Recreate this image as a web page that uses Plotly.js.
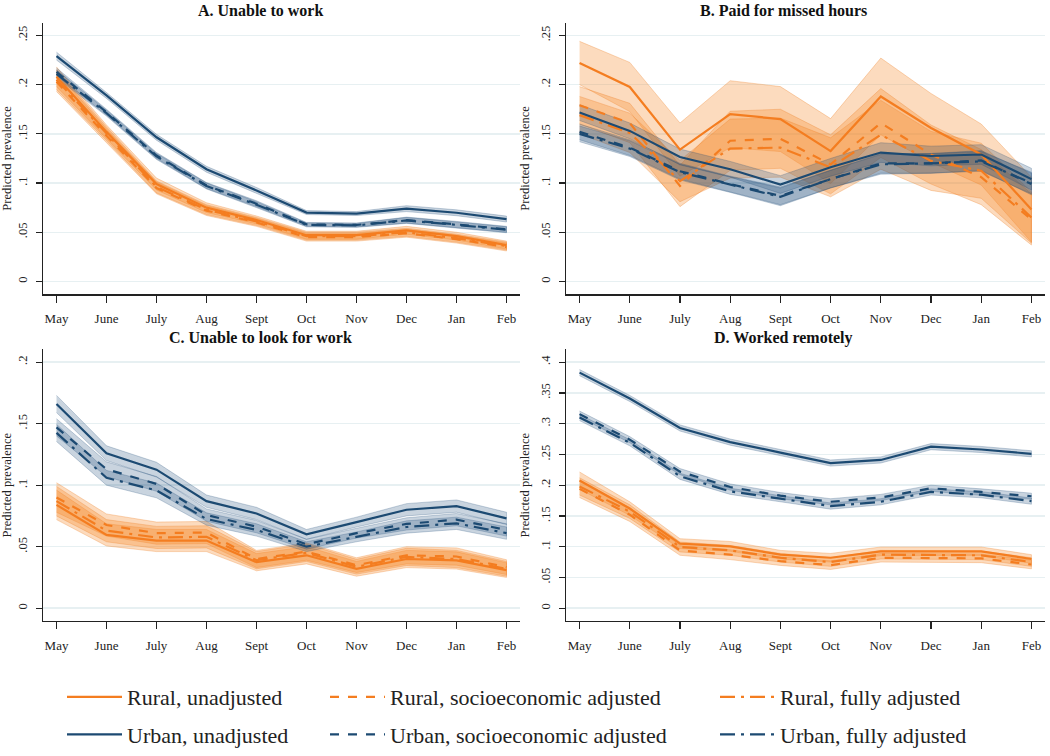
<!DOCTYPE html>
<html>
<head>
<meta charset="utf-8">
<script src="https://cdn.plot.ly/plotly-3.0.1.min.js"></script>
<style>html,body{margin:0;padding:0;background:#fff}#chart{width:1050px;height:756px}</style>
</head>
<body>
<div id="chart"></div>
<script>
// ---------- data ----------
const months = ['May','June','July','Aug','Sept','Oct','Nov','Dec','Jan','Feb'];

// A. Unable to work
const a_rural_unadj    = [0.208, 0.152, 0.099, 0.075, 0.0625, 0.047, 0.047, 0.052, 0.046, 0.037];
const a_rural_socio    = [0.203, 0.148, 0.095, 0.072, 0.060, 0.045, 0.045, 0.049, 0.043, 0.035];
const a_rural_full     = [0.205, 0.150, 0.096, 0.073, 0.061, 0.046, 0.046, 0.050, 0.044, 0.036];
const a_urban_unadj    = [0.229, 0.189, 0.1465, 0.114, 0.0925, 0.070, 0.069, 0.074, 0.0698, 0.0634];
const a_urban_socio    = [0.213, 0.172, 0.128, 0.0975, 0.079, 0.058, 0.0574, 0.0624, 0.058, 0.053];
const a_urban_full     = [0.211, 0.171, 0.127, 0.097, 0.078, 0.0575, 0.057, 0.062, 0.0575, 0.0525];
const a_rural_ci       = [0.010, 0.007, 0.006, 0.005, 0.004, 0.004, 0.004, 0.004, 0.004, 0.004];
const a_urban_ci       = [0.004, 0.003, 0.003, 0.003, 0.003, 0.002, 0.002, 0.003, 0.003, 0.003];

// B. Paid for missed hours
const b_rural_unadj    = [0.222, 0.1976, 0.134, 0.170, 0.165, 0.1325, 0.188, 0.156, 0.129, 0.073];
const b_rural_socio    = [0.179, 0.161, 0.097, 0.143, 0.145, 0.119, 0.161, 0.129, 0.106, 0.063];
const b_rural_full     = [0.169, 0.151, 0.102, 0.135, 0.136, 0.116, 0.149, 0.1225, 0.1125, 0.065];
const b_urban_unadj    = [0.1716, 0.153, 0.1265, 0.114, 0.0985, 0.116, 0.131, 0.1275, 0.129, 0.104];
const b_urban_socio    = [0.152, 0.136, 0.112, 0.099, 0.087, 0.104, 0.120, 0.120, 0.123, 0.099];
const b_urban_full     = [0.150, 0.135, 0.111, 0.0985, 0.086, 0.104, 0.119, 0.120, 0.122, 0.100];
const b_rural_unadj_ci = [0.022, 0.025, 0.027, 0.034, 0.033, 0.033, 0.039, 0.035, 0.031, 0.033];
const b_rural_adj_ci   = [0.019, 0.020, 0.021, 0.030, 0.030, 0.030, 0.035, 0.030, 0.028, 0.026];
const b_urban_ci       = [0.008, 0.008, 0.008, 0.008, 0.009, 0.009, 0.010, 0.010, 0.010, 0.011];

// C. Unable to look for work
const c_rural_unadj    = [0.084, 0.0596, 0.055, 0.055, 0.0374, 0.043, 0.032, 0.040, 0.0388, 0.031];
const c_rural_socio    = [0.090, 0.0676, 0.061, 0.0615, 0.040, 0.046, 0.035, 0.043, 0.042, 0.0334];
const c_rural_full     = [0.087, 0.063, 0.0575, 0.058, 0.039, 0.045, 0.0337, 0.0417, 0.040, 0.032];
const c_urban_unadj    = [0.166, 0.126, 0.1126, 0.087, 0.077, 0.060, 0.070, 0.080, 0.083, 0.073];
const c_urban_socio    = [0.147, 0.113, 0.101, 0.0757, 0.0663, 0.052, 0.061, 0.0685, 0.072, 0.0636];
const c_urban_full     = [0.1425, 0.106, 0.0957, 0.0725, 0.0636, 0.050, 0.058, 0.066, 0.069, 0.061];
const c_rural_ci       = [0.012, 0.009, 0.009, 0.009, 0.007, 0.007, 0.006, 0.007, 0.007, 0.006];
const c_urban_ci       = [0.007, 0.006, 0.006, 0.005, 0.005, 0.004, 0.004, 0.005, 0.005, 0.005];

// D. Worked remotely
const d_rural_unadj    = [0.2075, 0.162, 0.105, 0.1005, 0.087, 0.082, 0.0925, 0.0925, 0.0925, 0.080];
const d_rural_socio    = [0.194, 0.152, 0.094, 0.087, 0.0765, 0.070, 0.082, 0.082, 0.081, 0.071];
const d_rural_full     = [0.198, 0.157, 0.0995, 0.094, 0.082, 0.075, 0.087, 0.087, 0.086, 0.075];
const d_urban_unadj    = [0.383, 0.341, 0.293, 0.270, 0.253, 0.236, 0.241, 0.2626, 0.258, 0.251];
const d_urban_socio    = [0.3155, 0.274, 0.222, 0.197, 0.183, 0.173, 0.180, 0.195, 0.189, 0.182];
const d_urban_full     = [0.310, 0.269, 0.2144, 0.190, 0.178, 0.166, 0.173, 0.189, 0.1845, 0.174];
const d_rural_ci       = [0.014, 0.011, 0.008, 0.008, 0.007, 0.007, 0.007, 0.007, 0.007, 0.007];
const d_urban_ci       = [0.005, 0.005, 0.005, 0.005, 0.005, 0.005, 0.005, 0.005, 0.005, 0.005];

const panelTitles = ['A. Unable to work', 'B. Paid for missed hours', 'C. Unable to look for work', 'D. Worked remotely'];
const seriesNames = ['Rural, unadjusted', 'Rural, socioeconomic adjusted', 'Rural, fully adjusted',
                     'Urban, unadjusted', 'Urban, socioeconomic adjusted', 'Urban, fully adjusted'];
const yTicksAB = [0, 0.05, 0.1, 0.15, 0.2, 0.25];
const yTickTextAB = ['0', '.05', '.1', '.15', '.2', '.25'];
const yTicksC = [0, 0.05, 0.1, 0.15, 0.2];
const yTickTextC = ['0', '.05', '.1', '.15', '.2'];
const yTicksD = [0, 0.05, 0.1, 0.15, 0.2, 0.25, 0.3, 0.35, 0.4];
const yTickTextD = ['0', '.05', '.1', '.15', '.2', '.25', '.3', '.35', '.4'];

// ---------- styling ----------
const ORANGE = '#f47d20';
const NAVY = '#1c4a72';
const ORANGE_BAND = 'rgba(245,135,40,0.30)';
const ORANGE_EDGE = 'rgba(240,130,40,0.45)';
const NAVY_BAND = 'rgba(30,75,120,0.24)';
const NAVY_EDGE = 'rgba(30,75,120,0.35)';
const FONT = 'Liberation Serif, Times New Roman, serif';

const panels = [
  {ax: '', series: [a_rural_unadj, a_rural_socio, a_rural_full, a_urban_unadj, a_urban_socio, a_urban_full],
   ci: [a_rural_ci, a_rural_ci, a_rural_ci, a_urban_ci, a_urban_ci, a_urban_ci]},
  {ax: '2', series: [b_rural_unadj, b_rural_socio, b_rural_full, b_urban_unadj, b_urban_socio, b_urban_full],
   ci: [b_rural_unadj_ci, b_rural_adj_ci, b_rural_adj_ci, b_urban_ci, b_urban_ci, b_urban_ci]},
  {ax: '3', series: [c_rural_unadj, c_rural_socio, c_rural_full, c_urban_unadj, c_urban_socio, c_urban_full],
   ci: [c_rural_ci, c_rural_ci, c_rural_ci, c_urban_ci, c_urban_ci, c_urban_ci]},
  {ax: '4', series: [d_rural_unadj, d_rural_socio, d_rural_full, d_urban_unadj, d_urban_socio, d_urban_full],
   ci: [d_rural_ci, d_rural_ci, d_rural_ci, d_urban_ci, d_urban_ci, d_urban_ci]}
];
const dashes = ['solid', 'dash', 'longdashdot'];
const legendIds = ['legend', 'legend2', 'legend3'];

const traces = [];
const xBand = months.concat(months.slice().reverse());
panels.forEach((p, pi) => {
  // confidence bands first
  p.series.forEach((vals, si) => {
    const isRural = si < 3;
    const lo = vals.map((v, i) => v - p.ci[si][i]);
    const hi = vals.map((v, i) => v + p.ci[si][i]);
    traces.push({
      x: xBand, y: hi.concat(lo.slice().reverse()),
      xaxis: 'x' + p.ax, yaxis: 'y' + p.ax,
      type: 'scatter', mode: 'lines', fill: 'toself',
      fillcolor: isRural ? ORANGE_BAND : NAVY_BAND,
      line: {color: isRural ? ORANGE_EDGE : NAVY_EDGE, width: 0.7},
      hoverinfo: 'skip', showlegend: false
    });
  });
  // point-estimate lines
  p.series.forEach((vals, si) => {
    const isRural = si < 3;
    traces.push({
      x: months, y: vals,
      xaxis: 'x' + p.ax, yaxis: 'y' + p.ax,
      type: 'scatter', mode: 'lines',
      name: seriesNames[si],
      line: {color: isRural ? ORANGE : NAVY, width: 2.2, dash: dashes[si % 3]},
      showlegend: pi === 0,
      legend: legendIds[si % 3],
      legendgroup: isRural ? 'r' + (si % 3) : 'u' + (si % 3)
    });
  });
});

// ---------- layout ----------
const W = 1050, H = 756;
const px = (a, b) => [a / W, b / W];
const py = (top, bottom) => [1 - bottom / H, 1 - top / H];

function xAxis(domain, anchor) {
  return {
    domain: domain, anchor: anchor, type: 'category', range: [-0.27, 9.27],
    showgrid: false, zeroline: false, showline: true, linecolor: '#222', linewidth: 1.3,
    ticks: 'outside', ticklen: 7, tickwidth: 1.2, tickcolor: '#222', ticklabelstandoff: 5,
    tickfont: {family: FONT, size: 13, color: '#222'}, fixedrange: true
  };
}
function yAxis(domain, anchor, range, tv, tt) {
  return {
    domain: domain, anchor: anchor, range: range, tickvals: tv, ticktext: tt, tickangle: -90,
    showgrid: true, gridcolor: '#e7f0f2', gridwidth: 1.5, zeroline: false,
    showline: true, linecolor: '#222', linewidth: 1.3,
    ticks: 'outside', ticklen: 6, tickwidth: 1.2, tickcolor: '#222', ticklabelstandoff: 4,
    tickfont: {family: FONT, size: 12.5, color: '#222'},
    title: {text: 'Predicted prevalence', font: {family: FONT, size: 12.5, color: '#222'}, standoff: 6},
    fixedrange: true
  };
}

const legendBase = {
  orientation: 'v', yanchor: 'top', xanchor: 'left', y: 1 - 687 / H,
  bgcolor: 'rgba(0,0,0,0)', font: {family: FONT, size: 22, color: '#222'},
  traceorder: 'grouped', tracegroupgap: 6, itemwidth: 55
};

const annotations = panelTitles.map((t, i) => ({
  text: '<b>' + t + '</b>', xref: 'paper', yref: 'paper',
  x: (i % 2 === 0 ? 260 : 783) / W, y: 1 - (i < 2 ? 11 : 343) / H,
  xanchor: 'center', yanchor: 'middle', showarrow: false,
  font: {family: FONT, size: 16, color: '#111'}
}));

const layout = {
  width: W, height: H, margin: {l: 0, r: 0, t: 0, b: 0},
  paper_bgcolor: '#fff', plot_bgcolor: '#fff', showlegend: true,
  font: {family: FONT},
  xaxis:  xAxis(px(43, 520), 'y'),
  yaxis:  yAxis(py(23, 299), 'x', [-0.013, 0.263], yTicksAB, yTickTextAB),
  xaxis2: xAxis(px(566, 1045), 'y2'),
  yaxis2: yAxis(py(23, 299), 'x2', [-0.013, 0.263], yTicksAB, yTickTextAB),
  xaxis3: xAxis(px(43, 520), 'y3'),
  yaxis3: yAxis(py(355, 631), 'x3', [-0.0104, 0.2104], yTicksC, yTickTextC),
  xaxis4: xAxis(px(566, 1045), 'y4'),
  yaxis4: yAxis(py(355, 631), 'x4', [-0.0208, 0.4208], yTicksD, yTickTextD),
  legend:  Object.assign({}, legendBase, {x: 62 / W}),
  legend2: Object.assign({}, legendBase, {x: 325 / W}),
  legend3: Object.assign({}, legendBase, {x: 715 / W}),
  annotations: annotations
};

Plotly.newPlot('chart', traces, layout, {displayModeBar: false, staticPlot: true});
</script>
</body>
</html>
